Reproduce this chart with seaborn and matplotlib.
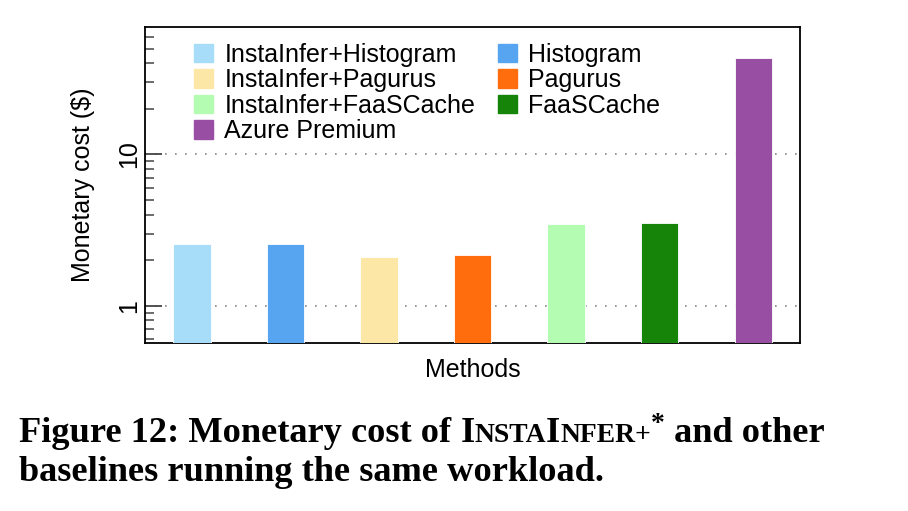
import matplotlib
matplotlib.use("Agg")
import matplotlib.pyplot as plt
import matplotlib.patches as mpatches
from matplotlib.ticker import LogLocator, NullFormatter, FixedLocator
import seaborn as sns
import pandas as pd

# data
methods = ["InstaInfer+Histogram", "Histogram", "InstaInfer+Pagurus", "Pagurus",
           "InstaInfer+FaaSCache", "FaaSCache", "Azure Premium"]
cost = [2.55, 2.55, 2.09, 2.15, 3.47, 3.51, 43.4]
colors = ["#a8ddf9", "#57a5f0", "#fde7a7", "#ff6d0c", "#b4fcb1", "#168309", "#984ea3"]
legend_order = ["InstaInfer+Histogram", "InstaInfer+Pagurus", "InstaInfer+FaaSCache",
                "Azure Premium", "Histogram", "Pagurus", "FaaSCache"]

sns.set_theme(style="ticks")
plt.rcParams["font.family"] = ["Liberation Sans", "DejaVu Sans"]
plt.rcParams["text.color"] = "black"
plt.rcParams["axes.labelcolor"] = "black"
plt.rcParams["ytick.labelcolor"] = "black"

df = pd.DataFrame({"method": methods, "cost": cost})
pal = dict(zip(methods, colors))

fig = plt.figure(figsize=(9.08, 5.11), dpi=100)
ax = fig.add_axes([145 / 908, 1 - 343 / 511, 655 / 908, 316 / 511])

sns.barplot(data=df, x="method", y="cost", hue="method", palette=pal,
            order=methods, hue_order=methods, dodge=False, width=0.4,
            saturation=1, legend=False, ax=ax, zorder=3)
for p in ax.patches:
    p.set_edgecolor("white")
    p.set_linewidth(0.6)

ax.set_yscale("log")
ax.set_ylim(0.567, 69.5)
ax.set_xlim(-0.5, 6.5)
ax.set_xticks([])
ax.yaxis.set_major_locator(FixedLocator([1, 10]))
ax.yaxis.set_minor_locator(LogLocator(base=10, subs=range(2, 10)))
ax.yaxis.set_minor_formatter(NullFormatter())
ax.set_yticklabels(["1", "10"], rotation=90, va="center", fontsize=18)
ax.tick_params(axis="y", which="major", direction="in", length=12, width=1.3, color="#444444", pad=3)
ax.tick_params(axis="y", which="minor", direction="in", length=6.5, width=1.1, color="#444444")
ax.yaxis.grid(True, which="major", linestyle=(0, (1, 5)), color="#888888", linewidth=1.2, zorder=0)
ax.set_axisbelow(True)
for s in ax.spines.values():
    s.set_color("black")
    s.set_linewidth(1.3)

ax.set_xlabel("Methods", fontsize=18, labelpad=11)
ax.set_ylabel("Monetary cost ($)", fontsize=18, labelpad=16)

handles = [mpatches.Patch(facecolor=pal[m], edgecolor=pal[m], label=m) for m in legend_order]
ax.legend(handles=handles, ncol=2, loc="upper left", bbox_to_anchor=(0.075, 0.95),
          frameon=False, fontsize=18, handlelength=0.76, handleheight=0.76,
          handletextpad=0.45, columnspacing=0.9, labelspacing=0.06,
          borderpad=0, borderaxespad=0)

# caption, small caps for the system name
serif = ["Liberation Serif", "DejaVu Serif"]
renderer = fig.canvas.get_renderer()
line1 = [("Figure 12: Monetary cost of ", 1.0, 0), ("I", 1.0, 0), ("NSTA", 0.76, 0),
         ("I", 1.0, 0), ("NFER+", 0.76, 0), ("*", 0.76, 11), (" and other", 1.0, 0)]
line2 = [("baselines running the same workload.", 1.0, 0)]


def put_run(pieces, x, y, size):
    texts = []
    for txt, rel, dy in pieces:
        t = fig.text(x / 908, 1 - (y - dy) / 511, txt, fontsize=size * rel, family=serif,
                     weight="bold", ha="left", va="baseline")
        x += t.get_window_extent(renderer).width
        texts.append(t)
    return x, texts


# roughly the width of the first line in the original, a bit smaller so glyph height stays close
end, tmp = put_run(line1, 19, 442, 20)
size = 0.93 * 20 * (885 - 19) / (end - 19)
for t in tmp:
    t.remove()
put_run(line1, 19, 442, size)
put_run(line2, 19, 481, size)

fig.savefig("out.png", dpi=100)
